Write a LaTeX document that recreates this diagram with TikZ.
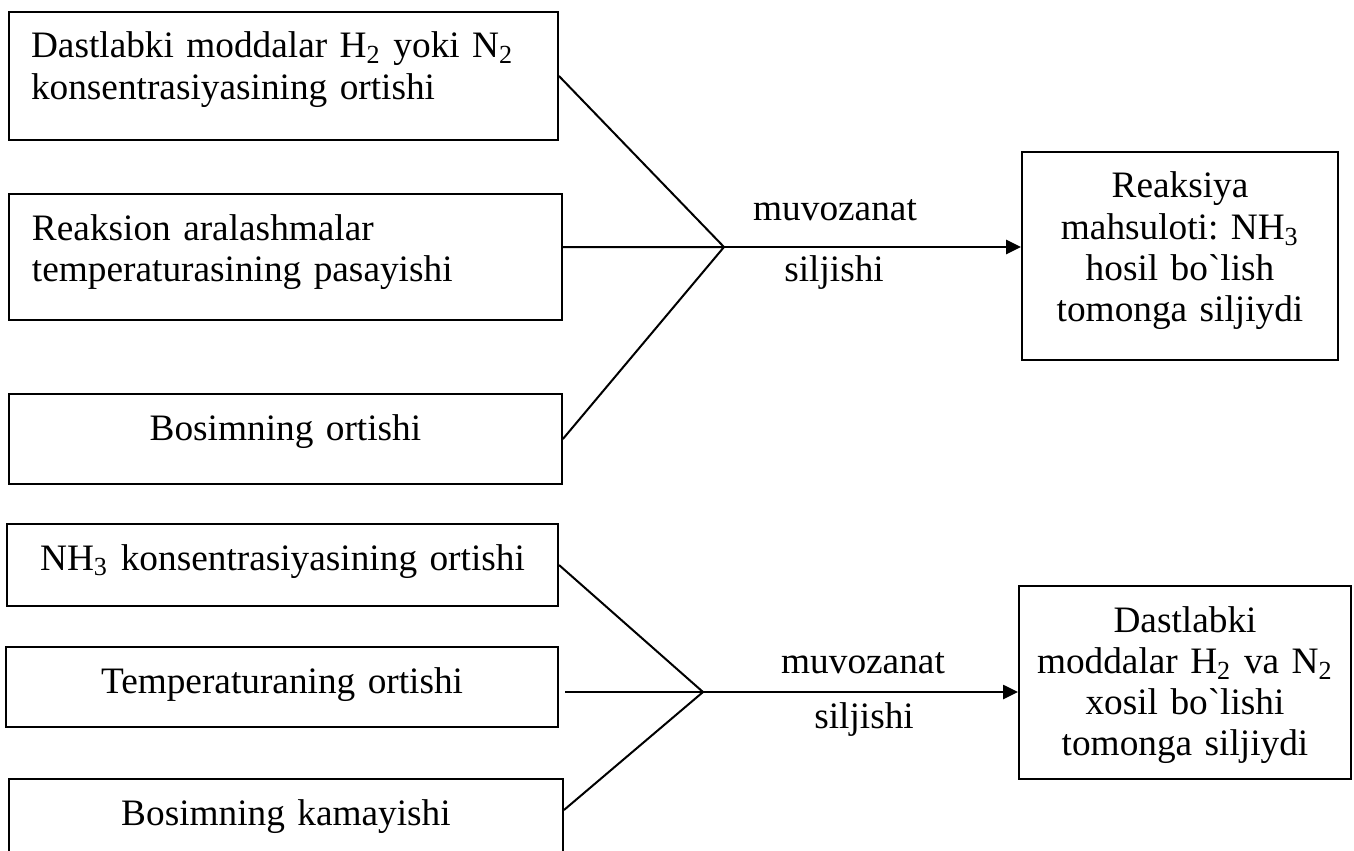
\documentclass[tikz,border=0pt]{standalone}
\usepackage{fontspec}
\setmainfont{Liberation Serif}
\usetikzlibrary{arrows.meta}
\frenchspacing
\begin{document}
\begin{tikzpicture}[x=0.3753pt,y=-0.3753pt,line width=.75pt,
  font=\fontsize{14}{15.5}\selectfont,
  cause/.style={draw,anchor=north west,inner ysep=0pt,text height=17.26pt},
  lbl/.style={anchor=base,inner sep=0pt},
  arr/.style={-{Triangle[length=5.6pt,width=5.3pt]}}]
 \useasboundingbox (0,0) rectangle (1354,850);
 % upper scheme: shift towards NH3
 \node[cause,align=left,inner xsep=8.26pt,text width=189.5pt,text depth=30.77pt] (incH) at (8,11) {Dastlabki moddalar H\textsubscript{2} yoki N\textsubscript{2}\\konsentrasiyasining ortishi};
 \node[cause,align=left,inner xsep=8.63pt,text width=190.3pt,text depth=30.02pt] (lowT) at (8,193) {Reaksion aralashmalar\\temperaturasining pasayishi};
 \node[cause,align=center,inner xsep=3.75pt,text width=200pt,text depth=16.51pt] (incP) at (8,393) {Bosimning ortishi};
 \node[cause,align=center,inner xsep=3.75pt,text width=111.1pt,text depth=60.8pt] (res1) at (1021,151) {Reaksiya\\mahsuloti: NH\textsubscript{3}\\hosil bo\textasciigrave lish\\tomonga siljiydi};
 \coordinate (j1) at (724,247);
 \draw (incH.east) -- (j1) (lowT.east |- j1) -- (j1) (incP.east) -- (j1);
 \draw[arr] (j1) -- (res1.west |- j1);
 \node[lbl] (mv1) at (835,220) {muvozanat}; \node[lbl] (sl1) at (834,281) {siljishi};
 % lower scheme: shift towards H2 and N2
 \node[cause,align=center,inner xsep=3.75pt,text width=199.3pt,text depth=13.51pt] (incNH) at (6,523) {NH\textsubscript{3} konsentrasiyasining ortishi};
 \node[cause,align=center,inner xsep=3.75pt,text width=199.7pt,text depth=12.76pt] (incT) at (5,646) {Temperaturaning ortishi};
 \node[cause,align=center,inner xsep=3.75pt,text width=200.4pt,text depth=16.51pt] (decP) at (8,778) {Bosimning kamayishi};
 \node[cause,align=center,inner xsep=3.75pt,text width=117.1pt,text depth=55.17pt] (res2) at (1018,585) {Dastlabki\\moddalar H\textsubscript{2} va N\textsubscript{2}\\xosil bo\textasciigrave lishi\\tomonga siljiydi};
 \coordinate (j2) at (703,692);
 \draw (incNH.east) -- (j2) (decP.east |- 0,810) -- (j2);
 \draw[arr,shorten <=2.25pt] (incT.east |- j2) -- (res2.west |- j2);
 \node[lbl] (mv2) at (863,673) {muvozanat}; \node[lbl] (sl2) at (864,728) {siljishi};
\end{tikzpicture}
\end{document}
